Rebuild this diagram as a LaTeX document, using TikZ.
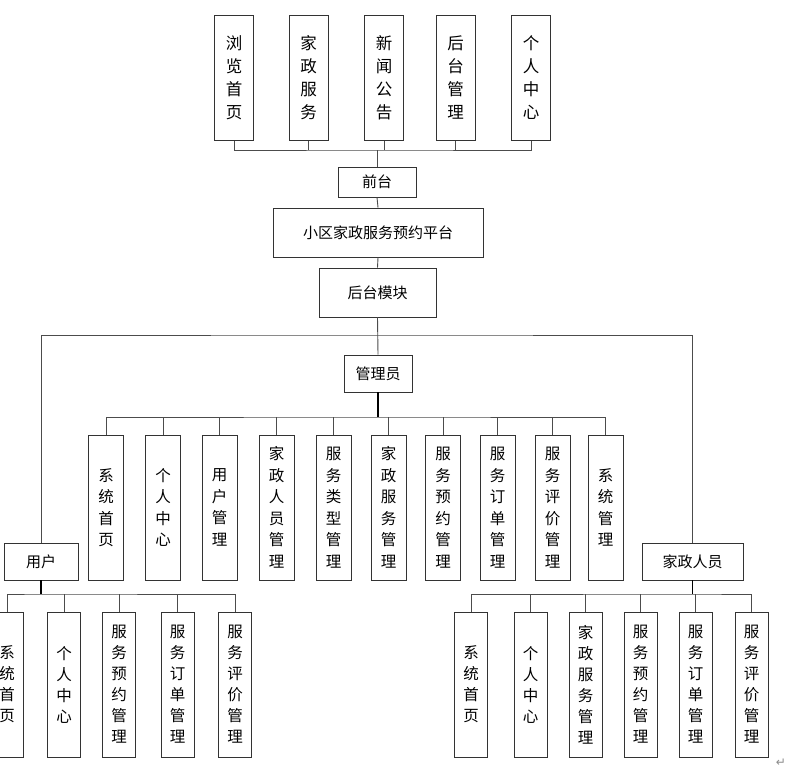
\documentclass[tikz,border=0pt]{standalone}
\usepackage{fontspec}
\newfontfamily\cjk{Noto Sans CJK SC}
\newfontfamily\dvs{DejaVu Sans}
\begin{document}
\begin{tikzpicture}[x=1pt,y=-1pt,
  boxline/.style={draw=black!80, line width=0.9pt, fill=white},
  vtop/.style={boxline, minimum width=39pt, minimum height=125pt, inner sep=0pt, align=center, font=\cjk\fontsize{16.5}{23}\selectfont},
  vmid/.style={boxline, minimum width=35pt, minimum height=145pt, inner sep=0pt, align=center, font=\cjk\fontsize{15.5}{21.5}\selectfont},
  vbot/.style={boxline, minimum width=33pt, minimum height=145pt, inner sep=0pt, align=center, font=\cjk\fontsize{15.5}{21}\selectfont},
  hbox/.style={boxline, inner sep=0pt, align=center, font=\cjk\fontsize{15}{17}\selectfont},
  conn/.style={draw=black!70, line width=0.9pt},
  trunk/.style={draw=black, line width=1.4pt}]
\clip (0,0) rectangle (794,776);
\fill[white] (0,0) rectangle (794,776);

% top level boxes
\node[vtop] (t1) at (234,78) {浏\\览\\首\\页};
\node[vtop] (t2) at (308.5,78) {家\\政\\服\\务};
\node[vtop] (t3) at (384,78) {新\\闻\\公\\告};
\node[vtop] (t4) at (455.5,78) {后\\台\\管\\理};
\node[vtop] (t5) at (531,78) {个\\人\\中\\心};

\node[hbox, minimum width=78pt, minimum height=30pt] (qt) at (377,182) {前台};
\node[hbox, minimum width=210pt, minimum height=49pt] (pt) at (378,232.5) {小区家政服务预约平台};
\node[hbox, minimum width=117pt, minimum height=49pt] (ht) at (377.5,292.5) {后台模块};
\node[hbox, minimum width=68pt, minimum height=37pt] (gl) at (378,373.5) {管理员};
\node[hbox, minimum width=74pt, minimum height=37pt] (yh) at (41,561.5) {用户};
\node[hbox, minimum width=101pt, minimum height=37pt] (jz) at (692.5,561.5) {家政人员};

\coordinate (tbus) at (377,150);
\coordinate (sbus) at (377,335);
\coordinate (abus) at (378,417);
\coordinate (ubus) at (41,594);
\coordinate (jbus) at (692.5,594);

% top connectors
\draw[conn] (t1.south) |- (tbus) -| (t5.south);
\foreach \n in {t2,t3,t4} \draw[conn] (\n.south) -- (\n.south |- tbus);
\draw[conn] (tbus) -- (qt.north);
\draw[conn] (qt.south) -- (pt.north);
\draw[conn] (pt.south) -- (ht.north);
\draw[conn] (ht.south) -- (gl.north);
\draw[conn] (yh.north) |- (sbus) -| (jz.north);

% admin boxes
\node[vmid] (a1) at (106,507.5) {系\\统\\首\\页};
\node[vmid] (a2) at (163,507.5) {个\\人\\中\\心};
\node[vmid] (a3) at (219.5,507.5) {用\\户\\管\\理};
\node[vmid] (a4) at (276.5,507.5) {家\\政\\人\\员\\管\\理};
\node[vmid] (a5) at (333.5,507.5) {服\\务\\类\\型\\管\\理};
\node[vmid] (a6) at (388.5,507.5) {家\\政\\服\\务\\管\\理};
\node[vmid] (a7) at (443,507.5) {服\\务\\预\\约\\管\\理};
\node[vmid] (a8) at (497.5,507.5) {服\\务\\订\\单\\管\\理};
\node[vmid] (a9) at (552.5,507.5) {服\\务\\评\\价\\管\\理};
\node[vmid] (a10) at (605.5,507.5) {系\\统\\管\\理};
\draw[conn] (a1.north) |- (abus) -| (a10.north);
\foreach \n in {a2,a3,a4,a5,a6,a7,a8,a9} \draw[conn] (\n.north) -- (\n.north |- abus);
\draw[trunk] (gl.south) -- (abus);

% user boxes
\node[vbot] (u1) at (7,684.5) {系\\统\\首\\页};
\node[vbot] (u2) at (64,684.5) {个\\人\\中\\心};
\node[vbot] (u3) at (119,684.5) {服\\务\\预\\约\\管\\理};
\node[vbot] (u4) at (177.5,684.5) {服\\务\\订\\单\\管\\理};
\node[vbot] (u5) at (235,684.5) {服\\务\\评\\价\\管\\理};
\draw[conn] (u1.north) |- (ubus) -| (u5.north);
\foreach \n in {u2,u3,u4} \draw[conn] (\n.north) -- (\n.north |- ubus);
\draw[trunk] (yh.south) -- (ubus);

% housekeeping staff boxes
\node[vbot] (j1) at (471,684.5) {系\\统\\首\\页};
\node[vbot] (j2) at (530.5,684.5) {个\\人\\中\\心};
\node[vbot] (j3) at (585.5,684.5) {家\\政\\服\\务\\管\\理};
\node[vbot] (j4) at (640.5,684.5) {服\\务\\预\\约\\管\\理};
\node[vbot] (j5) at (695.5,684.5) {服\\务\\订\\单\\管\\理};
\node[vbot] (j6) at (751.5,684.5) {服\\务\\评\\价\\管\\理};
\draw[conn] (j1.north) |- (jbus) -| (j6.north);
\foreach \n in {j2,j3,j4,j5} \draw[conn] (\n.north) -- (\n.north |- jbus);
\draw[trunk] (jz.south) -- (jbus);

\node[text=black!45, font=\dvs\fontsize{12}{12}\selectfont, inner sep=0pt] (ret) at (781,763) {↵};
\end{tikzpicture}
\end{document}
